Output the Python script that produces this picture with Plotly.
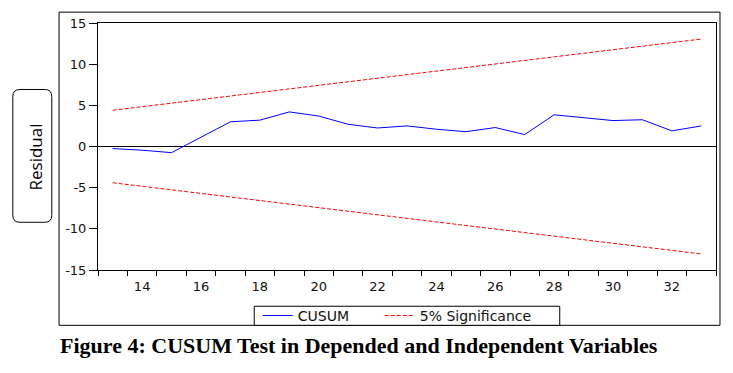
import plotly.graph_objects as go

# ---- data ----
periods = list(range(13, 34))
cusum = [-0.25, -0.45, -0.75, 1.1, 3.0, 3.2, 4.2, 3.7, 2.7, 2.25, 2.5, 2.1,
         1.8, 2.3, 1.45, 3.85, 3.5, 3.15, 3.25, 1.9, 2.5]
sig_periods = [13, 33]
sig_upper = [4.4, 13.05]
sig_lower = [-4.4, -13.05]
x_ticks = [14, 16, 18, 20, 22, 24, 26, 28, 30, 32]
y_ticks = [-15, -10, -5, 0, 5, 10, 15]
y_ticktext = ["-15", "-10", "-5", "0", "5", "10", "15"]

# page body has an 8px default margin; work in reference-pixel coordinates
OFF = 8
W, H = 717, 357
PL, PR, PT, PB = 98, 717, 20, 270          # plot area in reference pixels
PW, PH = PR - PL, PB - PT


def px(p):
    return (p - PL) / PW


def py(p):
    return (PB - p) / PH


tick_font = dict(family="DejaVu Sans", size=13, color="#111111")

fig = go.Figure()
fig.add_trace(go.Scatter(x=periods, y=cusum, mode="lines", name="CUSUM",
                         legendwidth=77,
                         line=dict(color="#0000FF", width=1)))
fig.add_trace(go.Scatter(x=sig_periods, y=sig_upper, mode="lines",
                         name="5% Significance", legendgroup="sig",
                         legendwidth=126,
                         line=dict(color="#FF0000", width=1, dash="4px,2px")))
fig.add_trace(go.Scatter(x=sig_periods, y=sig_lower, mode="lines",
                         name="5% Significance", legendgroup="sig",
                         showlegend=False,
                         line=dict(color="#FF0000", width=1, dash="4px,2px")))

# rounded box for "Residual"
bx0, bx1, by0, by1, r = 12.7, 51.7, 87.3, 221.7, 7
rx, ry = r / PW, r / PH
X0, X1, Y0, Y1 = px(bx0), px(bx1), py(by1), py(by0)
path = (f"M{X0 + rx},{Y1} L{X1 - rx},{Y1} Q{X1},{Y1} {X1},{Y1 - ry} "
        f"L{X1},{Y0 + ry} Q{X1},{Y0} {X1 - rx},{Y0} L{X0 + rx},{Y0} "
        f"Q{X0},{Y0} {X0},{Y0 + ry} L{X0},{Y1 - ry} Q{X0},{Y1} {X0 + rx},{Y1} Z")

fig.update_layout(
    width=W, height=H,
    margin=dict(l=PL - OFF, r=W - (PR - OFF), t=PT - OFF, b=H - (PB - OFF)),
    paper_bgcolor="white", plot_bgcolor="white",
    showlegend=True,
    legend=dict(orientation="h", x=px(258), y=py(316.5), xanchor="left",
                yanchor="middle", borderwidth=0,
                bgcolor="rgba(0,0,0,0)",
                font=dict(family="DejaVu Sans", size=14, color="#111111"),
                itemwidth=30, tracegroupgap=0),
    xaxis=dict(range=[12.5, 33.5], tickmode="array", tickvals=x_ticks,
               ticks="", showgrid=False, zeroline=False,
               showline=True, linecolor="black", linewidth=1, mirror=True,
               tickfont=tick_font, ticklabelstandoff=4,
               minor=dict(tickmode="linear", tick0=12.5, dtick=1,
                          ticks="outside", ticklen=5, tickcolor="black",
                          showgrid=False)),
    yaxis=dict(range=[-15, 15], tickmode="array", tickvals=y_ticks,
               ticktext=y_ticktext,
               ticks="outside", ticklen=8, tickcolor="black",
               showgrid=False, zeroline=True, zerolinecolor="black",
               zerolinewidth=1, showline=True, linecolor="black",
               linewidth=1, mirror=True, tickfont=tick_font),
    shapes=[
        dict(type="rect", xref="paper", yref="paper",
             x0=px(59), x1=px(721), y0=py(326), y1=py(9),
             line=dict(color="black", width=1), layer="below"),
        dict(type="rect", xref="paper", yref="paper",
             x0=px(254.5), x1=px(560.5), y0=py(326), y1=py(306.7),
             line=dict(color="black", width=1), fillcolor="white",
             layer="below"),
        dict(type="path", xref="paper", yref="paper", path=path,
             line=dict(color="black", width=1)),
    ],
    annotations=[
        dict(text="Residual", xref="paper", yref="paper",
             x=px(35.5), y=py(155.5), textangle=-90, showarrow=False,
             xanchor="center", yanchor="middle",
             font=dict(family="Open Sans", size=17, color="black")),
        dict(text="<b>Figure 4: CUSUM Test in Depended and Independent Variables</b>",
             xref="paper", yref="paper", x=px(58), y=py(346),
             xanchor="left", yanchor="middle", showarrow=False,
             font=dict(family="Liberation Serif", size=22, color="black")),
    ],
)

fig.write_html("out.html")
